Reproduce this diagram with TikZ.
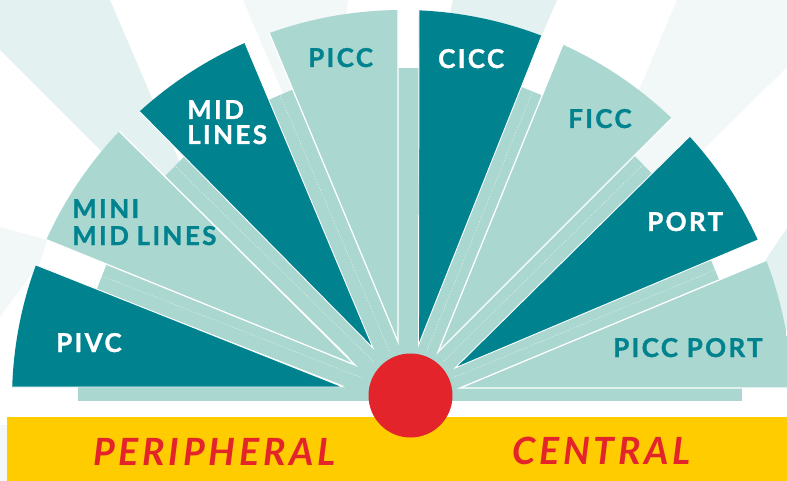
\documentclass[tikz,border=0pt]{standalone}
\usepackage{fontspec}
\usetikzlibrary{calc}
\newfontfamily\labelfont{Lato}[LetterSpace=9, BoldFeatures={FakeBold=1.2}]
\newfontfamily\catfont{Lato}[LetterSpace=10]
\definecolor{tealdark}{HTML}{00838F}
\definecolor{teallight}{HTML}{AAD7D0}
\definecolor{palebg}{HTML}{E4F1F1}
\definecolor{faintbg}{HTML}{F2F7F7}
\definecolor{barYellow}{HTML}{FFCC00}
\definecolor{hotred}{HTML}{E3242B}
\newcommand{\fanwedge}[4]{%
  \begin{scope}
    \clip (402,400) circle[radius=390pt];
    \path[#1] (#2) -- ($(#2)!1.2!(#3)$) -- ($(#2)!1.2!(#4)$) -- cycle;
  \end{scope}}
\begin{document}
\begin{tikzpicture}[x=1pt,y=-1pt,
  wedgedark/.style={fill=tealdark, draw=white, line width=0.9pt},
  wedgelight/.style={fill=teallight, draw=white, line width=1.3pt},
  stripband/.style={draw=teallight, line width=28pt},
  stripmid/.style={draw=white, line width=0.4pt, dash pattern=on 1.5pt off 1.5pt, opacity=0.7},
  lbl/.style={inner sep=0pt, anchor=base west, font=\labelfont\bfseries\fontsize{26}{30}\selectfont},
  lbldark/.style={lbl, text=tealdark},
  lblwhite/.style={lbl, text=white},
  cat/.style={inner sep=0pt, anchor=base west, text=hotred, font=\catfont\bfseries\itshape\fontsize{37.5}{40}\selectfont}
]
\useasboundingbox (0,0) rectangle (787,481);
\fill[white] (0,0) rectangle (787,481);
% background rays
\fill[palebg] (0,0) -- (110,0) -- (200,210) -- (100,150) -- (0,50) -- cycle;
\fill[faintbg] (243,0) -- (348,0) -- (330,140) -- (303,140) -- cycle;
\fill[palebg] (453,0) -- (557,0) -- (531,60) -- (440,60) -- cycle;
\fill[faintbg] (677,0) -- (787,0) -- (787,67) -- (652,200) -- (593,200) -- cycle;
\fill[palebg] (787,228) -- (740,298) -- (740,310) -- (787,330) -- cycle;
\fill[faintbg] (0,227) -- (47,240) -- (40,262) -- (0,317) -- cycle;
\fill[faintbg] (0,425) rectangle (7,481);
% strips
\coordinate (O) at (408.5,396);
\coordinate (s1e) at (102,276);
\coordinate (s2e) at (175,166);
\coordinate (s3e) at (280,95);
\coordinate (s4e) at (408.5,68);
\coordinate (s5e) at (532.5,91.5);
\coordinate (s6e) at (643,164.5);
\coordinate (s7e) at (715,270);
\fill[teallight] (78,386) rectangle (742,401);
\foreach \s in {s1e,s2e,s3e,s4e,s5e,s6e,s7e}{\draw[stripband] (O) -- (\s);}
\foreach \s in {s1e,s2e,s3e,s5e,s6e,s7e}{\draw[stripmid] ($(O)!0.15!(\s)$) -- (\s);}
% wedges
\fanwedge{wedgedark}{343,387}{12,387}{36,265}
\fanwedge{wedgelight}{355,365}{47,240}{119,131}
\fanwedge{wedgedark}{373,348}{140,112}{245,43}
\fanwedge{wedgelight}{398,342}{270,35}{398,10}
\fanwedge{wedgedark}{418.5,345}{419,12}{542,35}
\fanwedge{wedgelight}{438,352}{563,44}{673,117}
\fanwedge{wedgedark}{455,368}{689,137}{758,240}
\fanwedge{wedgelight}{460,388}{767,260}{792,388}
% bar and hub
\fill[barYellow] (7,417) rectangle (787,481);
\fill[hotred] (410.5,395.5) circle[radius=42pt];
% labels
\node[lblwhite] (pivc) at (56,352) {PIVC};
\node[lbldark] (mini1) at (72,218) {MINI};
\node[lbldark] (mini2) at (72,245) {MID\hspace{-1pt} LINES};
\node[lblwhite] (mid1) at (187,119) {MID};
\node[lblwhite] (mid2) at (187,144) {LINES};
\node[lbldark] (picc) at (308,67) {PICC};
\node[lblwhite] (cicc) at (438,68) {CICC};
\node[lbldark] (ficc) at (568,128) {FICC};
\node[lblwhite] (port) at (647,231) {PORT};
\node[lbldark] (piccport) at (613,357) {PICC PORT};
\node[cat] (peri) at (93,465) {PERIPHERAL};
\node[cat] (central) at (512,464) {CENTRAL};
\end{tikzpicture}
\end{document}
